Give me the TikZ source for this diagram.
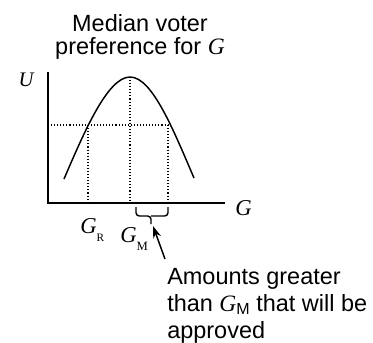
\documentclass[tikz,border=0pt]{standalone}
\usepackage{fontspec}
\setmainfont{Liberation Sans}
\newfontfamily\tms{Liberation Serif}
\usetikzlibrary{arrows.meta, positioning}

% italic Times letter as used for the variables
\newcommand{\var}[1]{{\tms\itshape #1}}

\begin{document}
\begin{tikzpicture}[x=0.75pt, y=-0.75pt, >={Stealth[length=9pt, width=6pt]},
    axis/.style={line width=1.5pt},
    guide/.style={line width=0.8pt, dash pattern=on 0.8pt off 1.5pt},
    txt/.style={inner sep=0pt, font=\fontsize{17.6}{17.6}\selectfont},
    mth/.style={inner sep=0pt, font=\fontsize{17}{17}\selectfont}]

    \useasboundingbox (0,0) rectangle (373,342);

    % Points of the diagram
    \coordinate (o)    at (48,203);
    \coordinate (ytop) at (48,72);
    \coordinate (xend) at (225,203);
    \coordinate (peak) at (130,77);
    \coordinate (cl)   at (88,125);
    \coordinate (cr)   at (168,125);
    \coordinate (uy)   at (48,125);
    \coordinate (gr)   at (88,203);
    \coordinate (gm)   at (130,203);
    \coordinate (gh)   at (168,203);

    % Axes
    \draw[axis] (ytop) -- (o) -- (xend);

    % Utility curve
    \draw[line width=1.1pt] (64,179) .. controls (85,130) and (108,77) .. (peak)
        .. controls (152,77) and (173,129) .. (194,178);

    % Dotted guides
    \draw[guide] (uy) -- (cr);
    \draw[guide] (cl) -- (gr);
    \draw[guide] (peak) -- (gm);
    \draw[guide] (cr) -- (gh);

    % Labels (base anchor of a multi-line node = last line)
    \node[txt, anchor=base, align=center] (title) at (140,55)
        {Median voter\\preference for \var{G}};
    \node[mth, anchor=base, font=\fontsize{15.5}{15.5}\selectfont] (u) at (26,87) {\var{U}};
    \node[mth, anchor=base west] (g) at (235,215) {\var{G}};
    \node[mth, anchor=base west] (gR) at (80,233)
        {\var{G}\raisebox{-6pt}{\fontsize{8.5}{8.5}\selectfont\tms R}};
    \node[mth, anchor=base west] (gM) at (120,242)
        {\var{G}\raisebox{-6pt}{\fontsize{9.5}{9.5}\selectfont\tms M}};

    % Bracket over the approved amounts
    \coordinate (bl)   at (136,207);
    \coordinate (br)   at (168,207);
    \coordinate (bm)   at (151,216);
    \coordinate (btip) at (151,224);
    \draw[line width=1.1pt, rounded corners=2.5pt] (bl) |- (bm) -- (btip);
    \draw[line width=1.1pt, rounded corners=2.5pt] (br) |- (bm);

    % Note with arrow
    \node[txt, anchor=base west, align=left] (note) at (167,338)
        {Amounts greater\\[2.3pt]than \var{G}\raisebox{-2pt}{\fontsize{12}{12}\selectfont M} that will be\\[2.3pt]approved};
    \coordinate (tail) at (165,259);
    \coordinate (head) at (153,226);
    \draw[->, line width=1.1pt] (tail) -- (head);

\end{tikzpicture}
\end{document}
